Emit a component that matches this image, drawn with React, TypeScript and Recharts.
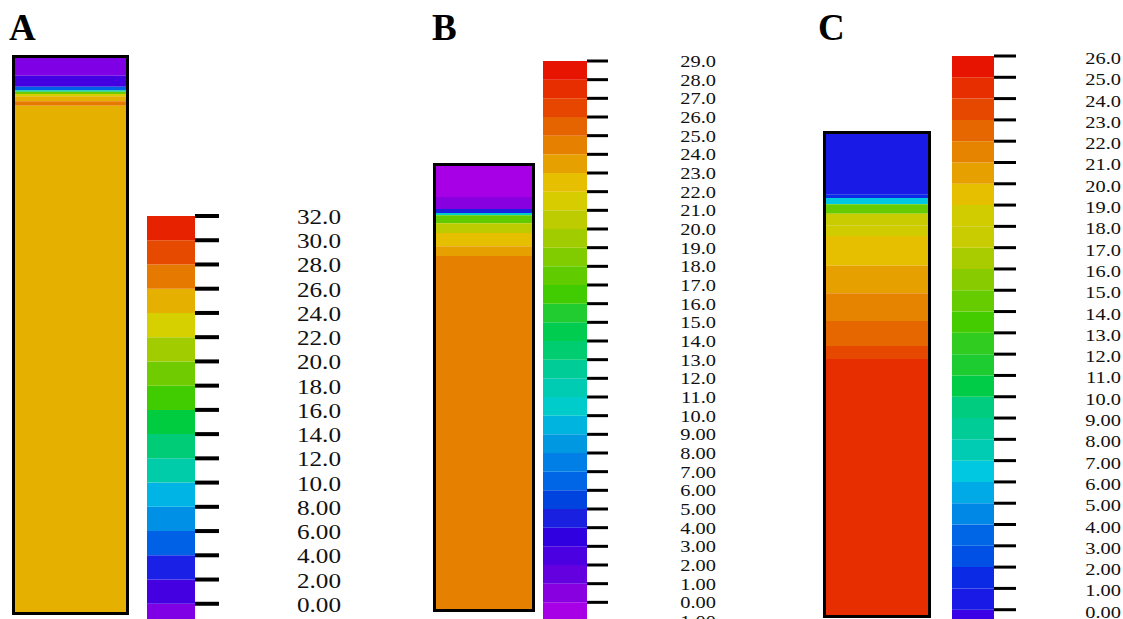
import React from "react";
import { BarChart, Bar, XAxis, YAxis } from "recharts";

// contour levels of each colour bar (lowest one sits below the page edge)
const A_LEVELS = [-2, 0, 2, 4, 6, 8, 10, 12, 14, 16, 18, 20, 22, 24, 26, 28, 30, 32];
const B_LEVELS = [
  -1, 0, 1, 2, 3, 4, 5, 6, 7, 8, 9, 10, 11, 12, 13, 14, 15, 16, 17, 18, 19,
  20, 21, 22, 23, 24, 25, 26, 27, 28, 29,
];
const C_LEVELS = [
  -1, 0, 1, 2, 3, 4, 5, 6, 7, 8, 9, 10, 11, 12, 13, 14, 15, 16, 17, 18, 19,
  20, 21, 22, 23, 24, 25, 26,
];

// labelled ticks (B shows its -1.00 label cut at the page edge)
const A_TICKS = A_LEVELS.filter((v) => v >= 0);
const B_TICKS = B_LEVELS;
const C_TICKS = C_LEVELS.filter((v) => v >= 0);

// band colours, bottom band first
const A_COLORS = [
  "#8000e6", "#4400e0", "#1a20e6", "#0060e6", "#0090e6", "#00b4e6",
  "#00ccaa", "#00cc78", "#00cc40", "#40cc00", "#70cc00", "#a0cc00",
  "#d6d000", "#e6b000", "#e67a00", "#e64a00", "#e62200",
];
const B_COLORS = [
  "#a800e6", "#8800e0", "#6400e0", "#4a00e0", "#3000e0", "#1a20e0",
  "#0044e0", "#0066e6", "#0080e6", "#0098e0", "#00b4e0", "#00cccc",
  "#00ccb4", "#00cc98", "#00cc70", "#00cc50", "#20cc30", "#40cc00",
  "#60cc00", "#80cc00", "#a0cc00", "#bccc00", "#d6cc00", "#e6c000",
  "#e6a000", "#e68000", "#e66400", "#e64600", "#e62e00", "#e61400",
];
const C_COLORS = [
  "#3a00e6", "#1a1ae6", "#0a2ae6", "#0050e6", "#0066e6", "#0088e6",
  "#00aae6", "#00c8e0", "#00ccb4", "#00cc98", "#00cc80", "#00cc48",
  "#1ccc30", "#30cc20", "#44cc00", "#66cc00", "#88cc00", "#a8cc00",
  "#c8cc00", "#d0cc00", "#e6c000", "#e6a000", "#e68400", "#e66600",
  "#e64800", "#e62e00", "#e61400",
];

// column profiles: layer boundaries (% of depth from top) and field value
const A_DEPTH = [0, 3.2, 5.2, 5.8, 6.1, 6.5, 6.9, 7.8, 8.6, 100];
const A_VALUE = [-0.5, 1, 5, 11, 19, 23, 25, 27, 25];

const B_DEPTH = [0, 7, 9.7, 10.6, 11.1, 12.9, 15.1, 18.1, 20.3, 100];
const B_VALUE = [-0.5, 0.5, 4.5, 10.5, 17.5, 20.5, 22.5, 23.5, 24.5];

const C_DEPTH = [0, 12.5, 13.3, 14.6, 16.6, 19.1, 21.2, 27.4, 33.1, 38.9, 44.1, 46.8, 100];
const C_VALUE = [0.5, 1.5, 6.5, 14.5, 17.5, 18.5, 19.5, 20.5, 21.5, 22.5, 23.5, 24.5];

const SERIF = "'Liberation Serif', 'Times New Roman', serif";

function colorFor(v: number, levels: number[], colors: string[]) {
  for (let i = 0; i < levels.length - 1; i++) {
    if (v < levels[i + 1]) return colors[i];
  }
  return colors[colors.length - 1];
}

function fmt(v: number) {
  return Math.abs(v) >= 10 ? v.toFixed(1) : v.toFixed(2);
}

type ColumnProps = {
  depth: number[];
  values: number[];
  levels: number[];
  colors: string[];
  left: number;
  top: number;
  width: number;
  height: number;
};

function Column({ depth, values, levels, colors, left, top, width, height }: ColumnProps) {
  const row: Record<string, number | string> = { name: "col" };
  values.forEach((_, i) => {
    row["l" + i] = depth[i + 1] - depth[i];
  });
  return (
    <div
      style={{
        position: "absolute",
        left,
        top,
        width,
        height,
        border: "3px solid #000",
      }}
    >
      <BarChart
        width={width}
        height={height}
        data={[row]}
        margin={{ top: 0, right: 0, bottom: 0, left: 0 }}
        barCategoryGap={0}
        barGap={0}
      >
        <XAxis dataKey="name" hide />
        <YAxis hide reversed domain={[0, 100]} type="number" />
        {values.map((v, i) => (
          <Bar
            key={i}
            dataKey={"l" + i}
            stackId="c"
            fill={colorFor(v, levels, colors)}
            isAnimationActive={false}
          />
        ))}
      </BarChart>
    </div>
  );
}

type BarProps = {
  levels: number[];
  ticks: number[];
  colors: string[];
  left: number;
  top: number;
  barWidth: number;
  plotHeight: number;
  tickLen: number;
  tickWidth: number;
  labelRight: number;
  fontSize: number;
  dy: number;
};

function ColorBar(p: BarProps) {
  const row: Record<string, number | string> = { name: "bar" };
  p.colors.forEach((_, i) => {
    const lo = p.levels[i];
    const hi = p.levels[i + 1];
    row["b" + i] = hi <= 0 ? lo - hi : hi - Math.max(lo, 0);
  });
  const Tick = (t: any) => {
    const { x, y, payload } = t;
    return (
      <g>
        <line x1={x} x2={x + p.tickLen} y1={y} y2={y} stroke="#000" strokeWidth={p.tickWidth} />
        <text
          x={0}
          y={0}
          transform={`translate(${x + p.labelRight},${y + p.dy}) scale(1.2,1)`}
          textAnchor="end"
          fontFamily={SERIF}
          fontSize={p.fontSize}
          fill="#111"
        >
          {fmt(payload.value)}
        </text>
      </g>
    );
  };
  return (
    <div style={{ position: "absolute", left: p.left, top: p.top - 10 }}>
      <BarChart
        width={p.barWidth + 150}
        height={p.plotHeight + 10}
        data={[row]}
        stackOffset="sign"
        margin={{ top: 10, right: 0, bottom: 0, left: 0 }}
        barCategoryGap={0}
        barGap={0}
      >
        <XAxis dataKey="name" hide />
        <YAxis
          orientation="right"
          type="number"
          width={150}
          domain={[p.levels[0], p.levels[p.levels.length - 1]]}
          ticks={p.ticks}
          interval={0}
          allowDataOverflow
          axisLine={false}
          tickLine={false}
          tickSize={0}
          tickMargin={0}
          tick={Tick}
        />
        {p.colors.map((c, i) => (
          <Bar
            key={i}
            dataKey={"b" + i}
            stackId="s"
            fill={c}
            isAnimationActive={false}
          />
        ))}
      </BarChart>
    </div>
  );
}

const letterStyle: React.CSSProperties = {
  position: "absolute",
  top: 9,
  fontFamily: SERIF,
  fontWeight: "bold",
  fontSize: 37,
  lineHeight: "37px",
  color: "#000",
};

export default function App() {
  return (
    <div
      style={{
        position: "absolute",
        left: 0,
        top: 0,
        width: 1123,
        height: 619,
        overflow: "hidden",
        background: "#fff",
      }}
    >
      <div style={{ ...letterStyle, left: 9 }}>A</div>
      <div style={{ ...letterStyle, left: 432 }}>B</div>
      <div style={{ ...letterStyle, left: 818 }}>C</div>

      <Column depth={A_DEPTH} values={A_VALUE} levels={A_LEVELS} colors={A_COLORS}
        left={12} top={55} width={111} height={554} />
      <ColorBar levels={A_LEVELS} ticks={A_TICKS} colors={A_COLORS} left={147} top={216}
        barWidth={48} plotHeight={412} tickLen={24} tickWidth={4}
        labelRight={146} fontSize={21} dy={8} />

      <Column depth={B_DEPTH} values={B_VALUE} levels={B_LEVELS} colors={B_COLORS}
        left={433} top={163} width={96} height={443} />
      <ColorBar levels={B_LEVELS} ticks={B_TICKS} colors={B_COLORS} left={543} top={61}
        barWidth={44} plotHeight={560} tickLen={21} tickWidth={3}
        labelRight={129} fontSize={17} dy={6} />

      <Column depth={C_DEPTH} values={C_VALUE} levels={C_LEVELS} colors={C_COLORS}
        left={823} top={131} width={102} height={481} />
      <ColorBar levels={C_LEVELS} ticks={C_TICKS} colors={C_COLORS} left={952} top={56}
        barWidth={42} plotHeight={575} tickLen={22} tickWidth={3}
        labelRight={127} fontSize={17} dy={8} />
    </div>
  );
}
